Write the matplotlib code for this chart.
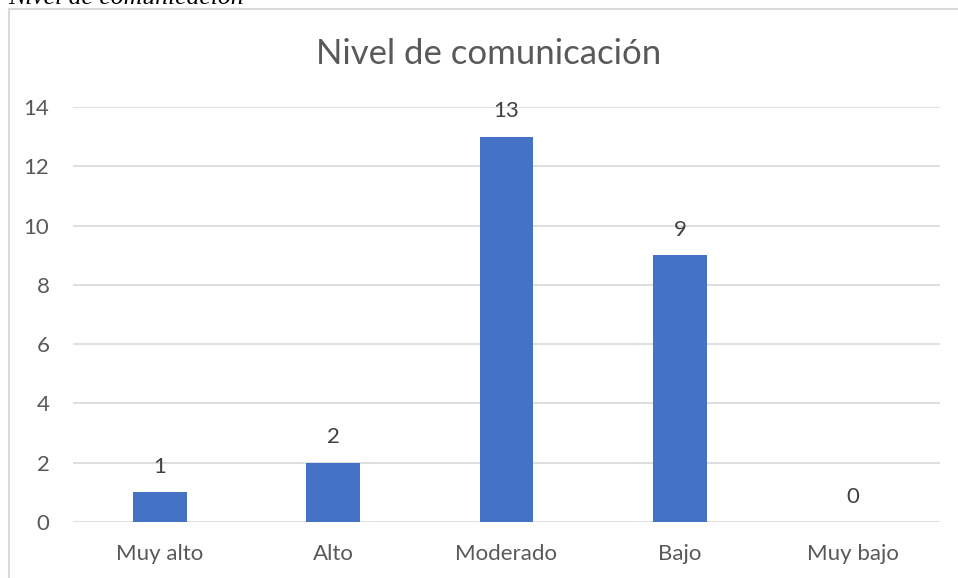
import matplotlib.pyplot as plt
import matplotlib.patches as mpatches
import numpy as np

# Datos del gráfico
categorias = ['Muy alto', 'Alto', 'Moderado', 'Bajo', 'Muy bajo']
valores = [1, 2, 13, 9, 0]

plt.rcParams['font.family'] = ['Lato', 'DejaVu Sans']

W, H = 958, 578
fig = plt.figure(figsize=(W / 100, H / 100), dpi=100)

# Marco del gráfico
fig.patches.append(mpatches.Rectangle((9 / W, -0.1), 1.2, 1 - 9 / H + 0.1,
                                      transform=fig.transFigure,
                                      fill=False, edgecolor='#d9d9d9',
                                      linewidth=1.5))

# Leyenda en cursiva (cortada arriba)
fig.text(8 / W, 1 - 4 / H, 'Nivel de comunicación', family='Liberation Serif',
         style='italic', fontsize=18.5, color='black', ha='left', va='baseline')

ax = fig.add_axes([73 / W, 1 - 522 / H, (940 - 73) / W, (522 - 107) / H])
x = np.arange(len(categorias))
bars = ax.bar(x, valores, width=0.31, color='#4472C4', zorder=3)

ax.set_xlim(-0.5, len(categorias) - 0.5)
ax.set_ylim(0, 14)
ax.set_yticks(np.arange(0, 15, 2))
ax.set_xticks(x)
ax.set_xticklabels(categorias)
ax.tick_params(length=0, labelsize=16, labelcolor='#595959')
ax.tick_params(axis='y', pad=17)
ax.tick_params(axis='x', pad=16)
ax.grid(axis='y', color='#d9d9d9', linewidth=1.2, zorder=0)
for s in ax.spines.values():
    s.set_visible(False)

for b, v in zip(bars, valores):
    ax.annotate(str(v), (b.get_x() + b.get_width() / 2, v),
                xytext=(0, 11), textcoords='offset points',
                ha='center', va='bottom', fontsize=16, color='#404040')

fig.text(489 / W, 1 - 64 / H, 'Nivel de comunicación', fontsize=25,
         color='#595959', ha='center', va='baseline')

fig.savefig('out.png', dpi=100)
